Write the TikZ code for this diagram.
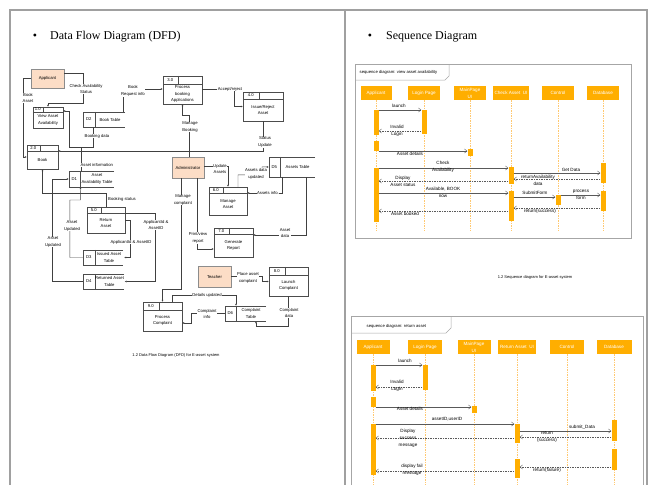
\documentclass[tikz,border=0pt]{standalone}
\usepackage{fontspec}
\setmainfont{Liberation Sans}
\newfontfamily\serifhead{Liberation Serif}
\usetikzlibrary{calc,arrows.meta}

\definecolor{peach}{HTML}{FCDDC6}
\definecolor{seqorange}{HTML}{FFAE00}
\definecolor{lifeorange}{HTML}{FFC870}
\definecolor{panelgray}{HTML}{A0A0A0}
\newcommand{\dfdsize}{\fontsize{4.2}{6.4}\selectfont}
\newcommand{\seqsize}{\fontsize{4.6}{7}\selectfont}

\tikzset{
  ext/.style={draw=black!45, fill=peach, minimum width=33, minimum height=21, inner sep=0, font=\dfdsize},
  proc/.style={draw=black!70, line width=0.4pt, inner sep=0},
  store/.style={inner sep=0, minimum height=15},
  txt/.style={font=\dfdsize, align=center, inner sep=0},
  lbl/.style={txt, fill=white, inner sep=0.4},
  flow/.style={draw=black!75, line width=0.4pt, -{Latex[length=2pt,width=2pt]}},
  head/.style={fill=seqorange, text=white, font=\seqsize, align=center, minimum height=14, inner sep=0},
  actbar/.style={fill=seqorange, minimum width=5, inner sep=0},
  lifeline/.style={draw=lifeorange, line width=0.4pt, dash pattern=on 1.5pt off 1pt},
  msg/.style={draw=black!65, line width=0.4pt, -{Straight Barb[length=2.5pt,width=4pt]}},
  reply/.style={msg, dash pattern=on 1.5pt off 1pt},
  mtxt/.style={font=\seqsize, align=center, inner sep=0.5},
  frame/.style={draw=black!35, line width=0.5pt}
}

\begin{document}
\begin{tikzpicture}[x=1pt, y=-1pt]
\useasboundingbox (0,0) rectangle (658,485);

% panels
\draw[panelgray, line width=1.2pt] (10,485) -- (10,10) -- (345,10) -- (345,485);
\draw[panelgray, line width=1.2pt] (345,10) -- (647,10) -- (647,485);
\node (dfdbul) at (35,37) {\serifhead\fontsize{12}{14}\selectfont\textbullet};
\node[anchor=west, inner sep=0] (dfdtitle) at (50,37) {\serifhead\fontsize{12}{14}\selectfont Data Flow Diagram (DFD)};
\node (seqbul) at (370,37) {\serifhead\fontsize{12}{14}\selectfont\textbullet};
\node[anchor=west, inner sep=0] (seqtitle) at (386,37) {\serifhead\fontsize{12}{14}\selectfont Sequence Diagram};

% ---------------- DFD ----------------
\node[ext, minimum height=19] (app) at (47.5,78.5) {Applicant};
\node[ext, minimum width=32] (adm) at (188,167.5) {Administrator};
\node[ext] (tch) at (214.5,276.5) {Teacher};

\node[proc, minimum width=30, minimum height=21] (view) at (48,117.5) {};
\draw[proc] ($(view.north west)+(0,5)$) -- ($(view.north east)+(0,5)$);
\draw[proc] ($(view.north west)+(10,0)$) -- ($(view.north west)+(10,5)$);
\node[txt] (view-id) at ($(view.north west)+(5,2.5)$) {1.0};
\node[txt] (view-t) at ($(view.center)+(0,2.5)$) {View Asset\\Availability};

\node[proc, minimum width=31, minimum height=24] (book) at (42.5,157) {};
\draw[proc] ($(book.north west)+(0,6)$) -- ($(book.north east)+(0,6)$);
\draw[proc] ($(book.north west)+(13,0)$) -- ($(book.north west)+(13,6)$);
\node[txt] (book-id) at ($(book.north west)+(6.5,3)$) {2.0};
\node[txt] (book-t) at ($(book.center)+(0,3)$) {Book};

\node[proc, minimum width=39, minimum height=28] (pba) at (182.5,90) {};
\draw[proc] ($(pba.north west)+(0,8)$) -- ($(pba.north east)+(0,8)$);
\draw[proc] ($(pba.north west)+(15,0)$) -- ($(pba.north west)+(15,8)$);
\node[txt] (pba-id) at ($(pba.north west)+(7.5,4)$) {3.0};
\node[txt] (pba-t) at ($(pba.center)+(0,4)$) {Process\\booking\\Applications};

\node[proc, minimum width=40, minimum height=29] (iss) at (263,106.5) {};
\draw[proc] ($(iss.north west)+(0,7)$) -- ($(iss.north east)+(0,7)$);
\draw[proc] ($(iss.north west)+(16,0)$) -- ($(iss.north west)+(16,7)$);
\node[txt] (iss-id) at ($(iss.north west)+(8,3.5)$) {4.0};
\node[txt] (iss-t) at ($(iss.center)+(0,3.5)$) {Issue/Reject\\Asset};

\node[proc, minimum width=38, minimum height=26] (ret) at (106,220) {};
\draw[proc] ($(ret.north west)+(0,6)$) -- ($(ret.north east)+(0,6)$);
\draw[proc] ($(ret.north west)+(14,0)$) -- ($(ret.north west)+(14,6)$);
\node[txt] (ret-id) at ($(ret.north west)+(7,3)$) {5.0};
\node[txt] (ret-t) at ($(ret.center)+(0,3)$) {Return\\Asset};

\node[proc, minimum width=38, minimum height=28] (mas) at (228,201) {};
\draw[proc] ($(mas.north west)+(0,6)$) -- ($(mas.north east)+(0,6)$);
\draw[proc] ($(mas.north west)+(14,0)$) -- ($(mas.north west)+(14,6)$);
\node[txt] (mas-id) at ($(mas.north west)+(7,3)$) {6.0};
\node[txt] (mas-t) at ($(mas.center)+(0,3)$) {Manage\\Asset};

\node[proc, minimum width=39, minimum height=29] (gen) at (233.5,242.5) {};
\draw[proc] ($(gen.north west)+(0,6)$) -- ($(gen.north east)+(0,6)$);
\draw[proc] ($(gen.north west)+(15,0)$) -- ($(gen.north west)+(15,6)$);
\node[txt] (gen-id) at ($(gen.north west)+(7.5,3)$) {7.0};
\node[txt] (gen-t) at ($(gen.center)+(0,3)$) {Generate\\Report};

\node[proc, minimum width=39, minimum height=29] (lch) at (288.5,281.5) {};
\draw[proc] ($(lch.north west)+(0,8)$) -- ($(lch.north east)+(0,8)$);
\draw[proc] ($(lch.north west)+(16,0)$) -- ($(lch.north west)+(16,8)$);
\node[txt] (lch-id) at ($(lch.north west)+(8,4)$) {8.0};
\node[txt] (lch-t) at ($(lch.center)+(0,4)$) {Launch\\Complaint};

\node[proc, minimum width=39, minimum height=29] (pcm) at (162.5,316.5) {};
\draw[proc] ($(pcm.north west)+(0,8)$) -- ($(pcm.north east)+(0,8)$);
\draw[proc] ($(pcm.north west)+(16,0)$) -- ($(pcm.north west)+(16,8)$);
\node[txt] (pcm-id) at ($(pcm.north west)+(8,4)$) {9.0};
\node[txt] (pcm-t) at ($(pcm.center)+(0,4)$) {Process\\Complaint};

% data stores
\node[store, minimum width=45, minimum height=16] (d1) at (91.5,179) {};
\draw[proc] (d1.north east) -- (d1.north west) -- (d1.south west) -- (d1.south east);
\draw[proc] ($(d1.north west)+(11,0)$) -- ($(d1.south west)+(11,0)$);
\node[txt] (d1-id) at ($(d1.west)+(5.5,0)$) {D1};
\node[txt] (d1-t) at ($(d1.center)+(5.5,0)$) {Asset\\Availability Table};

\node[store, minimum width=42] (d2) at (104,119.5) {};
\draw[proc] (d2.north east) -- (d2.north west) -- (d2.south west) -- (d2.south east);
\draw[proc] ($(d2.north west)+(12,0)$) -- ($(d2.south west)+(12,0)$);
\node[txt] (d2-id) at ($(d2.west)+(6,0)$) {D2};
\node[txt] (d2-t) at ($(d2.center)+(6,0)$) {Book Table};

\node[store, minimum width=40] (d3) at (103,257.5) {};
\draw[proc] (d3.north east) -- (d3.north west) -- (d3.south west) -- (d3.south east);
\draw[proc] ($(d3.north west)+(12,0)$) -- ($(d3.south west)+(12,0)$);
\node[txt] (d3-id) at ($(d3.west)+(6,0)$) {D3};
\node[txt] (d3-t) at ($(d3.center)+(6,0)$) {Issued Asset\\Table};

\node[store, minimum width=41] (d4) at (103.5,281.5) {};
\draw[proc] (d4.north east) -- (d4.north west) -- (d4.south west) -- (d4.south east);
\draw[proc] ($(d4.north west)+(12,0)$) -- ($(d4.south west)+(12,0)$);
\node[txt] (d4-id) at ($(d4.west)+(6,0)$) {D4};
\node[txt] (d4-t) at ($(d4.center)+(6,0)$) {Returned Asset\\Table};

\node[store, minimum width=46, minimum height=20] (d5) at (292,167) {};
\draw[proc] (d5.north east) -- (d5.north west) -- (d5.south west) -- (d5.south east);
\draw[proc] ($(d5.north west)+(11,0)$) -- ($(d5.south west)+(11,0)$);
\node[txt] (d5-id) at ($(d5.west)+(5.5,0)$) {D5};
\node[txt] (d5-t) at ($(d5.center)+(5.5,0)$) {Assets Table};

\node[store, minimum width=41] (d6) at (245.5,313.5) {};
\draw[proc] (d6.north east) -- (d6.north west) -- (d6.south west) -- (d6.south east);
\draw[proc] ($(d6.north west)+(11,0)$) -- ($(d6.south west)+(11,0)$);
\node[txt] (d6-id) at ($(d6.west)+(5.5,0)$) {D6};
\node[txt] (d6-t) at ($(d6.center)+(5.5,0)$) {Complaint\\Table};

% data flows
\draw[flow] ($(app.east)+(0,-5)$) -| ++(19,30) -| (view.north);
\node[lbl] (f1) at (86,89) {Check Availability\\Status};
\draw[flow] (app.west) -- ++(-8,0) |- (book.west);
\node[lbl] (f2) at (28,98) {Book\\Asset};
\draw[flow] ($(d2.south)+(-11,0)$) |- ++(-24,20) |- ($(view.east)+(0,-6.5)$);
\node[lbl] (f3) at (97,136) {Booking data};
\coordinate (jn) at ($(d1.north)+(-10.5,-24)$);
\draw[draw=black!75] ($(d1.north)+(-10.5,0)$) -- (jn);
\node[lbl, anchor=west] (f4) at (80,165) {Asset information};
\draw[flow] (iss.south) |- ($(book.east)+(0,-6)$);
\node[lbl] (f5) at (265,142) {Status\\Update};
\draw[flow] (ret.north) -- ++(0,-14) -| (book.south);
\node[txt, anchor=west] (f6) at (108,199) {Booking status};
\draw[flow] (d3.west) -- ++(-13,0) |- ++(10.5,-57.5) -- ($(d1.south)+(-11,0)$);
\node[lbl] (f7) at (72,226) {Asset\\Updated};
\draw[flow] (d4.west) -- ++(-31,0) |- (d1.west);
\node[lbl] (f8) at (53,242) {Asset\\Updated};
\draw[flow] (ret.east) -- ++(5,0) |- ($(d3.east)+(1,0)$);
\node[lbl] (f9) at (131,242) {ApplicantId \& AssetID};
\draw[flow] ($(ret.east)+(0,-7)$) -- ++(30,0) |- ($(d4.east)+(0.5,0)$);
\node[lbl] (f10) at (156,225) {ApplicantId \&\\AssetID};
\draw[flow] ($(adm.north)+(1,0)$) -- ++(0,-42) -| (pba.south);
\node[lbl] (f11) at (190,127) {Manage\\Booking};
\draw[flow] ($(pba.east)+(0,-1)$) -- ++(32,0) |- (iss.west);
\node[lbl] (f12) at (230,89) {Accept/reject};
\draw[flow] ($(d2.north)+(19,0)$) |- ($(pba.west)+(0,-1)$);
\node[lbl] (f13) at (133,91) {Book\\Request info};
\draw[flow] ($(adm.east)+(0,-1.5)$) -| (mas.north);
\node[lbl] (f14) at (220,169) {Update\\Assets};
\draw[flow] ($(mas.north)+(10,0)$) -- ++(0,-12) -| ++(24,-8) -- (d5.west);
\node[lbl] (f15) at (256,174) {Assets data\\updated};
\draw[flow] ($(d5.south)+(-10,0)$) |- ($(mas.east)+(0,-8)$);
\node[lbl] (f16) at (268,193) {Assets info.};
\draw[flow] ($(d5.south)+(14,0)$) |- ($(gen.east)+(0,-7.5)$);
\node[lbl] (f17) at (285,233) {Asset\\data};
\draw[flow] ($(adm.south)+(9,0)$) |- ($(gen.west)+(0,6.5)$);
\node[lbl] (f18) at (198,238) {Print/view\\report};
\draw[flow] ($(adm.south)+(-7,0)$) -- ++(0,111) -| (pcm.north);
\node[lbl] (f19) at (183,200) {Manage\\complaint};
\draw[flow] (tch.east) -- ++(31,0) |- (lch.west);
\node[lbl] (f20) at (248,278) {Place asset\\complaint};
\draw[flow] (lch.south) -- ++(0,30) -| ($(d6.south)+(10.5,0)$);
\node[lbl] (f21) at (289,313) {Complaint\\data};
\draw[flow] ($(pcm.north)+(9.5,0)$) -- ++(0,-7) -| ($(d6.north)+(-9.5,0)$);
\node[lbl] (f22) at (207,295) {Details updated};
\draw[flow] (d6.west) -- ++(-34,0) |- ($(pcm.east)+(0,6.5)$);
\node[lbl] (f23) at (207,314) {Complaint\\info};

\node[txt, font=\fontsize{4}{5}\selectfont] (dfdcap) at (176,355) {1.2 Data Flow Diagram (DFD) for E-asset system};

% ---------------- sequence diagram: view asset availability ----------------
\draw[frame] (355,64) rectangle (631,238);
\draw[frame] (355,80) -- (445,80) -- (449,76) -- (449,64);
\node[mtxt, anchor=west, font=\fontsize{4.2}{5}\selectfont] (sq1) at (359,72) {sequence diagram: view asset availability};

\node[head, minimum width=31] (h1a) at (376,93) {Applicant};
\node[head, minimum width=32] (h1b) at (424,93) {Login Page};
\node[head, minimum width=32] (h1c) at (470,93) {MainPage\\UI};
\node[head, minimum width=36] (h1d) at (511,93) {Check Asset\ \ UI};
\node[head, minimum width=32] (h1e) at (558,93) {Control};
\node[head, minimum width=32] (h1f) at (603,93) {Database};
\draw[lifeline] (h1a.south) -- ++(0,131);
\draw[lifeline] (h1b.south) -- ++(0,131);
\draw[lifeline] (h1c.south) -- ++(0,131);
\draw[lifeline] (h1d.south) -- ++(0,131);
\draw[lifeline] (h1e.south) -- ++(0,131);
\draw[lifeline] (h1f.south) -- ++(0,131);

\node[actbar, minimum height=25] (b1a) at (376,122.5) {};
\node[actbar, minimum height=10] (b1b) at (376,146) {};
\node[actbar, minimum height=54] (b1c) at (376,195) {};
\node[actbar, minimum height=24] (b1d) at (424,122) {};
\node[actbar, minimum height=7] (b1e) at (470,152.5) {};
\node[actbar, minimum height=17] (b1f) at (511,175.5) {};
\node[actbar, minimum height=30] (b1g) at (511,206) {};
\node[actbar, minimum height=10] (b1h) at (558,200) {};
\node[actbar, minimum height=20] (b1i) at (603,173) {};
\node[actbar, minimum height=20] (b1j) at (603,201) {};

\draw[msg] (b1a.east |- 0,110) -- (b1d.west |- 0,110);
\node[mtxt] (m1) at (399,106) {launch};
\draw[reply] (b1d.west |- 0,131) -- (b1a.east |- 0,131);
\node[mtxt] (m2) at (397,131) {Invalid\\Login};
\draw[msg] (b1b.east |- 0,151) -- (b1e.west |- 0,151);
\node[mtxt] (m3) at (410,154) {Asset details};
\draw[msg] (b1c.east |- 0,168) -- (b1f.west |- 0,168);
\node[mtxt] (m4) at (443,167) {Check\\Availability};
\draw[msg] (b1f.east |- 0,173) -- (b1i.west |- 0,173);
\node[mtxt] (m5) at (571,170) {Get Data};
\draw[reply] (b1i.west |- 0,179) -- (b1f.east |- 0,179);
\node[mtxt] (m6) at (538,180) {returnAvailability\\data};
\draw[reply] (b1f.west |- 0,181) -- (b1c.east |- 0,181);
\node[mtxt] (m7) at (403,181) {Display\\Asset status};
\draw[msg] (b1c.east |- 0,193) -- (b1g.west |- 0,193);
\node[mtxt] (m8) at (443,192) {Available, BOOK\\now};
\draw[msg] (b1g.east |- 0,197) -- (b1h.west |- 0,197);
\node[mtxt] (m9) at (535,192.5) {SubmitForm};
\draw[msg] (b1h.east |- 0,195) -- (b1j.west |- 0,195);
\node[mtxt] (m10) at (581,195) {process\\form};
\draw[reply] (b1j.west |- 0,208) -- (b1g.east |- 0,208);
\node[mtxt] (m11) at (540,211) {return(success)};
\draw[reply] (b1g.west |- 0,211) -- (b1c.east |- 0,211);
\node[mtxt] (m12) at (405,214) {Asset booked};

\node[txt, font=\fontsize{4}{5}\selectfont] (seqcap) at (535,277) {1.2 Sequence diagram for E-asset system};

% ---------------- sequence diagram: return asset ----------------
\draw[frame] (351,485) -- (351,316) -- (643,316) -- (643,485);
\draw[frame] (351,333) -- (446,333) -- (451,328) -- (451,316);
\node[mtxt, anchor=west, font=\fontsize{4.2}{5}\selectfont] (sq2) at (366,326) {sequence diagram: return asset};

\node[head, minimum width=33] (h2a) at (373,347) {Applicant};
\node[head, minimum width=34] (h2b) at (425,347) {Login Page};
\node[head, minimum width=33] (h2c) at (474,347) {MainPage\\UI};
\node[head, minimum width=38] (h2d) at (517,347) {Return Asset\ \ UI};
\node[head, minimum width=34] (h2e) at (567,347) {Control};
\node[head, minimum width=35] (h2f) at (614,347) {Database};
\draw[lifeline] (h2a.south) -- ++(0,131);
\draw[lifeline] (h2b.south) -- ++(0,131);
\draw[lifeline] (h2c.south) -- ++(0,131);
\draw[lifeline] (h2d.south) -- ++(0,131);
\draw[lifeline] (h2e.south) -- ++(0,131);
\draw[lifeline] (h2f.south) -- ++(0,131);

\node[actbar, minimum height=26] (b2a) at (373,378) {};
\node[actbar, minimum height=10] (b2b) at (373,402) {};
\node[actbar, minimum height=51] (b2c) at (373,449.5) {};
\node[actbar, minimum height=25] (b2d) at (425,377.5) {};
\node[actbar, minimum height=7] (b2e) at (474,409.5) {};
\node[actbar, minimum height=19] (b2f) at (517,433.5) {};
\node[actbar, minimum height=19] (b2g) at (517,468.5) {};
\node[actbar, minimum height=21] (b2h) at (614,430.5) {};
\node[actbar, minimum height=21] (b2i) at (614,459.5) {};

\draw[msg] (b2a.east |- 0,365) -- (b2d.west |- 0,365);
\node[mtxt] (n1) at (405,361) {launch};
\draw[reply] (b2d.west |- 0,387) -- (b2a.east |- 0,387);
\node[mtxt] (n2) at (397,386) {Invalid\\Login};
\draw[msg] (b2b.east |- 0,407) -- (b2e.west |- 0,407);
\node[mtxt] (n3) at (410,409) {Asset details};
\draw[msg] (b2c.east |- 0,424) -- (b2f.west |- 0,424);
\node[mtxt] (n4) at (447,419.5) {assetID,userID};
\draw[msg] (b2f.east |- 0,431) -- (b2h.west |- 0,431);
\node[mtxt] (n5) at (582,427) {submit\_Data};
\draw[reply] (b2h.west |- 0,437) -- (b2f.east |- 0,437);
\node[mtxt] (n6) at (547,437) {return\\(success)};
\draw[reply] (b2f.west |- 0,438) -- (b2c.east |- 0,438);
\node[mtxt] (n7) at (408,438) {Display\\success\\message};
\draw[reply] (b2i.west |- 0,467) -- (b2g.east |- 0,467);
\node[mtxt] (n8) at (547,470) {return(failure)};
\draw[reply] (b2g.west |- 0,471) -- (b2c.east |- 0,471);
\node[mtxt] (n9) at (412,470) {display fail\\message};

\end{tikzpicture}
\end{document}
